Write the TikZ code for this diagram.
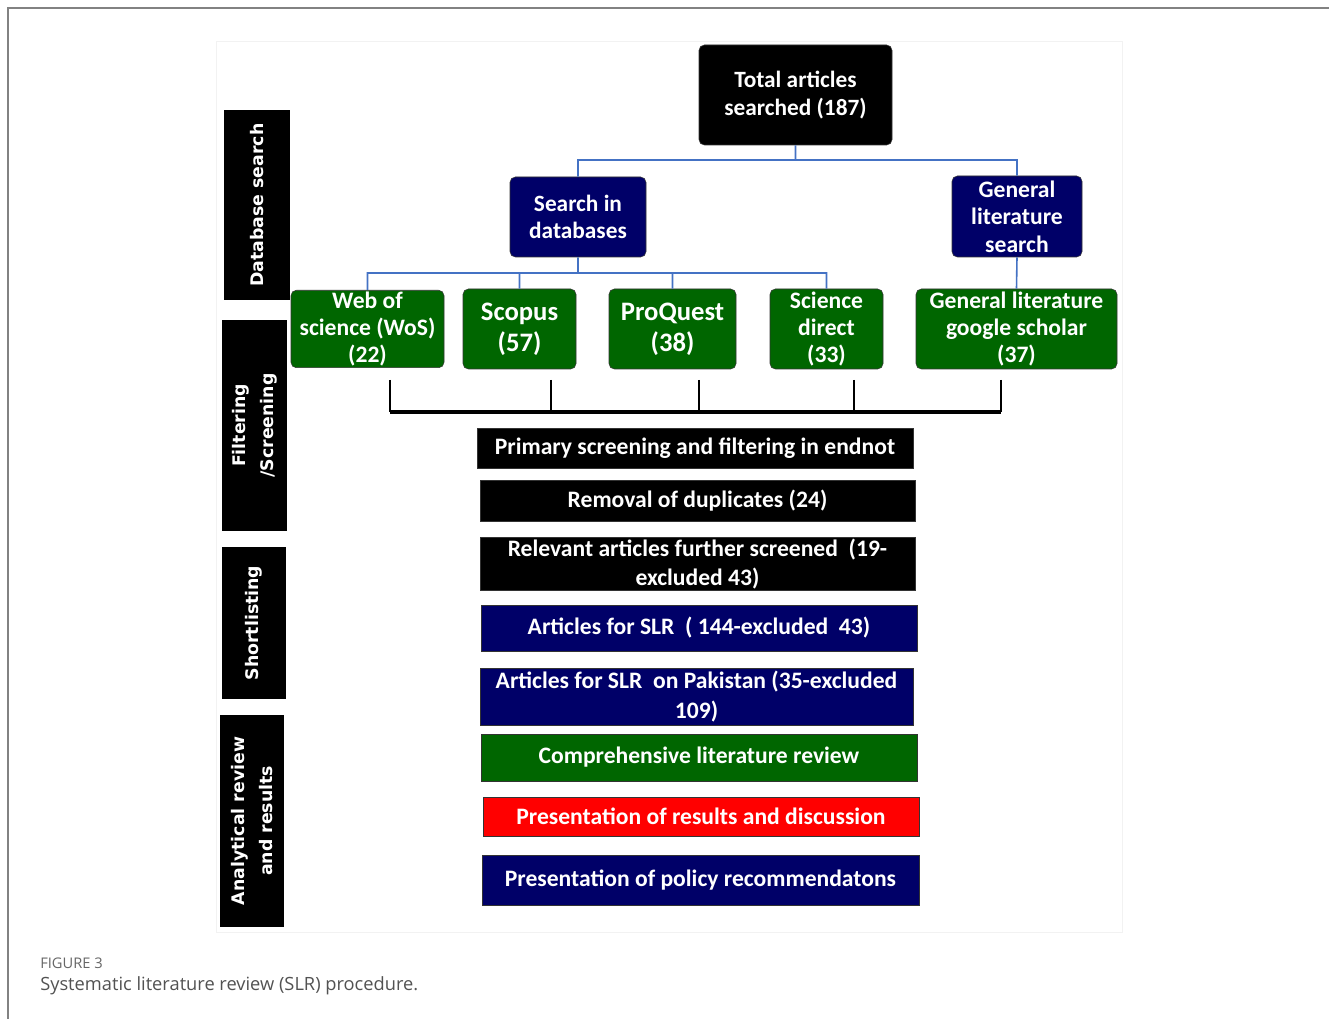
\documentclass[tikz,border=0pt]{standalone}
\usepackage{fontspec}
\setmainfont{Carlito}
\newfontfamily\stagefont{DejaVu Sans}
\newfontfamily\capfont{Open Sans}
\usetikzlibrary{
    shapes,
    positioning,
    calc
}
\definecolor{navyfill}{RGB}{0,0,104}
\definecolor{greenfill}{RGB}{0,102,0}
\definecolor{redfill}{RGB}{255,0,0}
\definecolor{treeblue}{RGB}{68,114,196}
\definecolor{framegray}{RGB}{130,130,130}
\tikzset{
  boxsize/.style 2 args = {
      minimum width=#1*0.75pt,
      minimum height=#2*0.75pt
  },
  basic/.style = {
      draw=black!80,
      rectangle,
      inner sep=1pt,
      align=center,
      text=white,
      font=\fontsize{17.7}{20.5}\selectfont\bfseries
  },
  round/.style = {
      basic,
      rounded corners=4pt
  },
  blackbox/.style = {
      basic,
      fill=black
  },
  navybox/.style = {
      basic,
      fill=navyfill
  },
  greenbox/.style = {
      basic,
      fill=greenfill
  },
  redbox/.style = {
      basic,
      fill=redfill
  },
  stage/.style = {
      fill=black,
      rotate=90,
      align=center,
      text=white,
      inner sep=1pt,
      font=\stagefont\fontsize{13}{21}\selectfont\bfseries
  },
  tree edge/.style = {
      draw=treeblue,
      line width=1.2pt
  },
  bracket/.style = {
      draw=black,
      line width=0.8pt
  }
}
\begin{document}
\begin{tikzpicture}[x=0.75pt, y=-0.75pt]
    \useasboundingbox (0,0) rectangle (1329,1019);
    % Frame and panel
    \draw[framegray, line width=0.8pt] (1329,8) -- (8,8) -- (8,1019);
    \draw[black!5, fill=white] (216,41) rectangle (1122,932);
    % Stages
    \node[stage, boxsize={190}{66}] (dbsearch) at (257,205) {Database search};
    \node[stage, boxsize={211}{65}] (filter) at (254.5,425.5) {Filtering\\/Screening};
    \node[stage, boxsize={152}{64}] (shortlist) at (254,623) {Shortlisting};
    \node[stage, boxsize={212}{64}] (analysis) at (252,821) {Analytical review\\and results};
    % Search tree
    \node[round, fill=black, boxsize={193}{100},
          font=\fontsize{17.5}{21}\selectfont\bfseries] (total) at (795.5,95) {Total articles\\searched (187)};
    \node[round, fill=navyfill, boxsize={136}{80},
          font=\fontsize{17.5}{20.5}\selectfont\bfseries] (dbs) at (578,217) {Search in\\databases};
    \node[round, fill=navyfill, boxsize={130}{81}] (general) at (1017,216.5) {General\\literature\\search};
    \node[round, fill=greenfill, boxsize={153}{76}] (wos) at (367.5,329) {Web of\\science (WoS)\\(22)};
    \node[round, fill=greenfill, boxsize={113}{80},
          font=\fontsize{20}{23}\selectfont\bfseries] (scopus) at (519.5,329) {Scopus\\(57)};
    \node[round, fill=greenfill, boxsize={127}{80},
          font=\fontsize{20}{23}\selectfont\bfseries] (proquest) at (672.5,329) {ProQuest\\(38)};
    \node[round, fill=greenfill, boxsize={113}{80}] (scidirect) at (826.5,329) {Science\\direct\\(33)};
    \node[round, fill=greenfill, boxsize={201}{80}] (scholar) at (1016.5,329) {General literature\\google scholar\\(37)};
    % Tree edges
    \coordinate (split1) at (795.5,160);
    \coordinate (split2) at (578,273);
    \path[tree edge]
    (total.south) -- (split1)
    (split1) -| (dbs.north)
    (split1) -| (general.north)
    (general.south) -- (scholar.north)
    (dbs.south) -- (split2)
    (split2) -| (wos.north)
    (split2) -| (scopus.north)
    (split2) -| (proquest.north)
    (split2) -| (scidirect.north);
    % Bracket
    \coordinate (b1) at (390,380);
    \coordinate (b2) at (551,380);
    \coordinate (b3) at (699,380);
    \coordinate (b4) at (854,380);
    \coordinate (b5) at (1001,380);
    \coordinate (barL) at (390,412);
    \coordinate (barR) at (1001,412);
    \foreach \b in {b1,b2,b3,b4,b5}
        \draw[bracket] (\b) -- (\b |- barL);
    \draw[black, line width=2.4pt] (barL) -- (barR);
    % Screening steps
    \node[blackbox, boxsize={436}{40}] (primary) at (695,448) {Primary screening and filtering in endnot};
    \node[blackbox, boxsize={435}{41}] (duplicates) at (697.5,500.5) {Removal of\ duplicates (24)};
    \node[blackbox, boxsize={435}{49},
          font=\fontsize{17.7}{22}\selectfont\bfseries] (relevant) at (697.5,564) {Relevant articles further screened\ \ (19-\\excluded 43)};
    \node[navybox, boxsize={436}{46}] (slr) at (699,628) {Articles for SLR\ \ ( 144-excluded\ \ 43)};
    \node[navybox, boxsize={433}{57},
          font=\fontsize{17.7}{22.5}\selectfont\bfseries] (pakistan) at (696.5,696.5) {Articles for SLR\ \ on Pakistan (35-excluded\\109)};
    \node[greenbox, boxsize={436}{47}] (review) at (699,757.5) {Comprehensive literature review};
    \node[redbox, boxsize={436}{39}] (results) at (701,816.5) {Presentation of results and discussion};
    \node[navybox, boxsize={437}{50}] (policy) at (700.5,880) {Presentation of policy recommendatons};
    % Caption
    \node[anchor=west, inner sep=0pt, text=black!60,
          font=\capfont\fontsize{11}{13}\selectfont] (fignum) at (40,963) {FIGURE 3};
    \node[anchor=west, inner sep=0pt, text=black!68,
          font=\capfont\fontsize{13.7}{16}\selectfont] (caption) at (40,986) {Systematic literature review (SLR) procedure.};
\end{tikzpicture}
\end{document}
